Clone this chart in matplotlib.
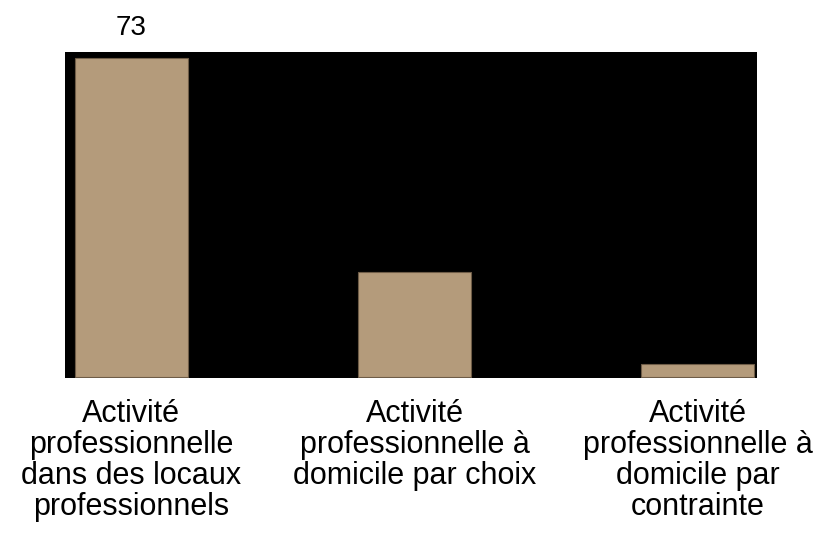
import matplotlib
matplotlib.use("Agg")
import matplotlib.pyplot as plt

plt.rcParams['font.family'] = ['Liberation Sans', 'DejaVu Sans']

categories = [
    "Activité\nprofessionnelle\ndans des locaux\nprofessionnels",
    "Activité\nprofessionnelle à\ndomicile par choix",
    "Activité\nprofessionnelle à\ndomicile par\ncontrainte",
]
valeurs = [73, 24, 3]

couleur_barre = '#b49b7b'

fig = plt.figure(figsize=(8.21, 5.39), dpi=100)
ax = fig.add_axes([0.079, 0.2987, 0.843, 0.605])
ax.set_facecolor('black')

x = range(len(categories))
barres = ax.bar(x, valeurs, width=0.4, color=couleur_barre,
                edgecolor='#6e5c47', linewidth=0.8)

# etiquettes de valeur (en noir : seule celle qui depasse du fond noir se voit)
for i, v in enumerate(valeurs):
    ax.annotate(str(v), (i, v), xytext=(0, 30), textcoords='offset pixels',
                ha='center', va='center', fontsize=20, color='black',
                annotation_clip=False)

ax.set_xlim(-0.235, 2.21)
ax.set_ylim(-0.3, 74.4)
ax.set_xticks(list(x))
ax.set_xticklabels(categories, fontsize=22, linespacing=1.05)
ax.tick_params(axis='x', length=0, pad=15)
ax.set_yticks([])
for s in ax.spines.values():
    s.set_visible(False)

fig.savefig('out.png', dpi=100)
